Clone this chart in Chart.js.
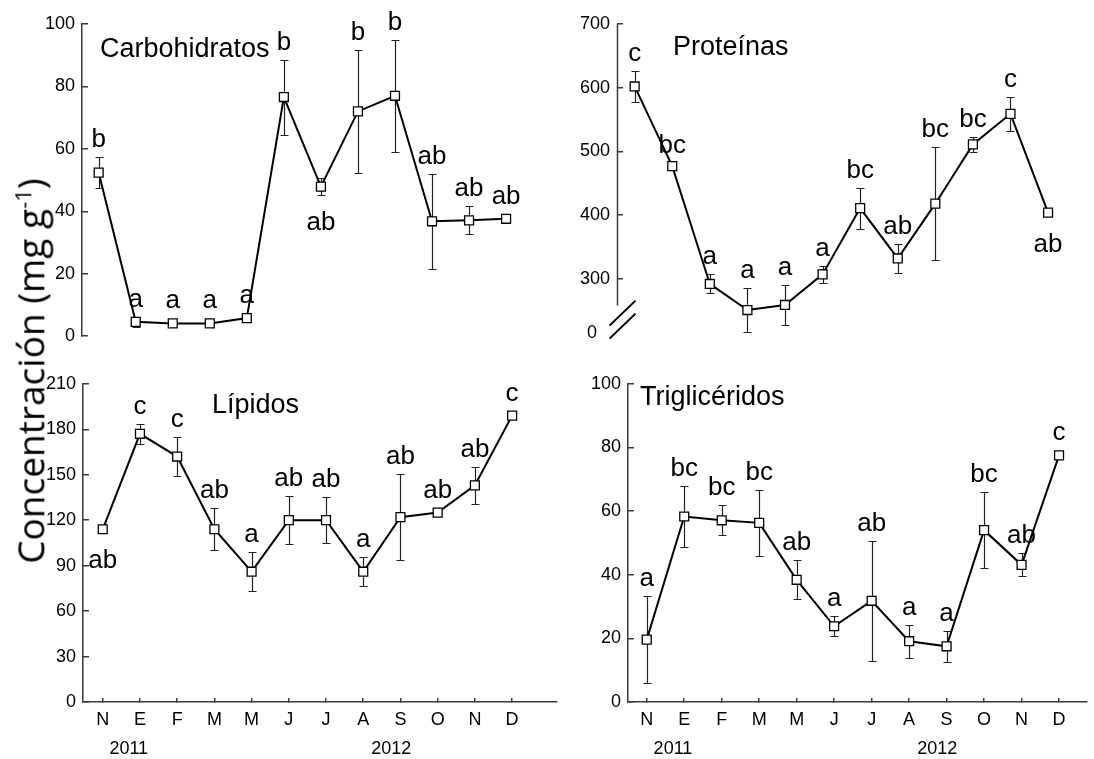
<!DOCTYPE html>
<html>
<head>
<meta charset="utf-8">
<script src="https://cdn.jsdelivr.net/npm/chart.js@4.4.1/dist/chart.umd.min.js"></script>
<style>
  body { margin: 0; background: #fff; }
  #wrap { position: relative; width: 1094px; height: 759px; overflow: hidden; background: #fff; }
  canvas { position: absolute; }
  #ytitle {
    position: absolute; left: 30px; top: 371px;
    transform: translate(-50%, -50%) rotate(-90deg);
    white-space: nowrap; font-family: "Open Sans", sans-serif; font-size: 37px; color: #000;
    line-height: 1;
  }
  #ytitle sup { font-size: 22px; }
</style>
</head>
<body>
<div id="wrap">
  <canvas id="c1" width="560" height="360" style="left:0;top:0"></canvas>
  <canvas id="c2" width="544" height="360" style="left:550px;top:0"></canvas>
  <canvas id="c3" width="564" height="399" style="left:0;top:360px"></canvas>
  <canvas id="c4" width="544" height="399" style="left:550px;top:360px"></canvas>
  <div id="ytitle">Concentración (mg g<sup>-1</sup>)</div>
</div>
<script>
// meses de muestreo (nov 2011 - dic 2012)
const months = ["N", "E", "F", "M", "M", "J", "J", "A", "S", "O", "N", "D"];
const years = ["2011", "2012"];
const yearAt = [0.7, 7.75];

// Carbohidratos
const carbMean = [52.4, 4.6, 4.1, 4.1, 5.8, 76.6, 47.9, 72.0, 77.0, 36.8, 37.1, 37.6];
const carbErr = [5.0, 1.5, 0, 0, 0, 12.0, 2.8, 19.6, 17.9, 15.2, 4.5, 0];
const carbLetters = ["b", "a", "a", "a", "a", "b", "ab", "b", "b", "ab", "ab", "ab"];
const carbBelow = [6];

// Proteínas (eje cortado)
const protMean = [602, 477, 292, 251, 259, 307, 411, 332, 418, 511, 559, 404];
const protErr = [25, 5, 15, 34, 32, 13, 32, 23, 89, 12, 27, 0];
const protLetters = ["c", "bc", "a", "a", "a", "a", "bc", "ab", "bc", "bc", "c", "ab"];
const protBelow = [11];
const protTicks = [300, 400, 500, 600, 700];

// Lípidos
const lipMean = [114, 177, 162, 114, 86, 120, 120, 86, 122, 125, 143, 189];
const lipErr = [0, 6.5, 13, 14, 13, 16, 15, 9.5, 28.5, 0, 12, 0];
const lipLetters = ["ab", "c", "c", "ab", "a", "ab", "ab", "a", "ab", "ab", "ab", "c"];
const lipBelow = [0];

// Triglicéridos
const trigMean = [19.6, 58.3, 57.1, 56.3, 38.4, 23.8, 31.8, 19.1, 17.5, 54.0, 43.1, 77.5];
const trigErr = [13.7, 9.5, 4.7, 10.4, 6.1, 3.1, 18.8, 5.2, 4.8, 12.0, 3.6, 0];
const trigLetters = ["a", "bc", "bc", "bc", "ab", "a", "ab", "a", "a", "bc", "ab", "c"];
const trigBelow = [];

const FONT = "'Liberation Sans', Arial, sans-serif";
const AXIS_COLOR = "#3a3a3a";

// barras de error, letras, título del panel, años y corte del eje
function decoPlugin(p) {
  return {
    id: "deco",
    beforeDatasetsDraw(chart) {
      const ctx = chart.ctx;
      const xs = chart.scales.x;
      const ys = chart.scales.y;
      ctx.save();
      ctx.strokeStyle = "#222";
      ctx.lineWidth = 1.2;
      p.mean.forEach((m, i) => {
        const e = p.err[i];
        if (!e) return;
        const px = Math.round(xs.getPixelForValue(i)) + 0.5;
        const top = Math.round(ys.getPixelForValue(m + e)) + 0.5;
        const bot = Math.round(ys.getPixelForValue(m - e)) + 0.5;
        ctx.beginPath();
        ctx.moveTo(px, top);
        ctx.lineTo(px, bot);
        ctx.moveTo(px - 4, top);
        ctx.lineTo(px + 4, top);
        ctx.moveTo(px - 4, bot);
        ctx.lineTo(px + 4, bot);
        ctx.stroke();
      });
      ctx.restore();
    },
    afterDraw(chart) {
      const ctx = chart.ctx;
      const xs = chart.scales.x;
      const ys = chart.scales.y;
      const area = chart.chartArea;
      ctx.save();
      ctx.fillStyle = "#000";

      // letras de significancia
      ctx.font = "26px " + FONT;
      ctx.textAlign = "center";
      p.mean.forEach((m, i) => {
        const px = xs.getPixelForValue(i);
        const e = p.err[i];
        if (p.below.includes(i)) {
          ctx.textBaseline = "top";
          const bot = e ? ys.getPixelForValue(m - e) : ys.getPixelForValue(m) + 5;
          ctx.fillText(p.letters[i], px, bot + 14);
        } else {
          ctx.textBaseline = "alphabetic";
          const top = e ? ys.getPixelForValue(m + e) : ys.getPixelForValue(m) - 5;
          ctx.fillText(p.letters[i], px, top - 10);
        }
      });

      // título del panel
      ctx.font = "27px " + FONT;
      ctx.textAlign = "left";
      ctx.textBaseline = "alphabetic";
      ctx.fillText(p.title, p.titleX, p.titleY);

      // años bajo el eje x
      if (p.showX) {
        ctx.font = "18px " + FONT;
        ctx.textAlign = "center";
        ctx.textBaseline = "middle";
        years.forEach((yr, k) => {
          ctx.fillText(yr, xs.getPixelForValue(yearAt[k]), area.bottom + 47);
        });
      }

      // eje y cortado (Proteínas)
      if (p.broken) {
        const ax = Math.round(area.left) + 0.5;
        const yEnd = ys.getPixelForValue(p.brokenAt);
        ctx.strokeStyle = AXIS_COLOR;
        ctx.lineWidth = 1.5;
        ctx.beginPath();
        ctx.moveTo(ax, area.top);
        ctx.lineTo(ax, yEnd);
        ctx.stroke();
        ctx.strokeStyle = "#000";
        ctx.lineWidth = 2;
        ctx.beginPath();
        ctx.moveTo(ax - 8, yEnd + 20);
        ctx.lineTo(ax + 18, yEnd - 5);
        ctx.moveTo(ax - 8, yEnd + 33);
        ctx.lineTo(ax + 18, yEnd + 8);
        ctx.stroke();
        ctx.font = "18px " + FONT;
        ctx.textAlign = "center";
        ctx.textBaseline = "middle";
        ctx.fillText("0", area.left - 25, area.bottom);
      }
      ctx.restore();
    },
  };
}

function makeChart(id, p) {
  const yScale = {
    min: p.yMin,
    max: p.yMax,
    ticks: {
      stepSize: p.yStep,
      color: "#000",
      font: { family: FONT, size: 18 },
      padding: 13,
    },
    grid: { drawOnChartArea: false, tickLength: -6, color: AXIS_COLOR, lineWidth: 1.5 },
    border: { display: !p.broken, color: AXIS_COLOR, width: 1.5 },
    afterFit: (s) => {
      s.width = p.axisX;
    },
  };
  if (p.yTicks) {
    yScale.afterBuildTicks = (s) => {
      s.ticks = p.yTicks.map((v) => ({ value: v }));
    };
  }

  new Chart(document.getElementById(id), {
    type: "line",
    data: {
      datasets: [
        {
          data: p.mean.map((v, i) => ({ x: i, y: v })),
          borderColor: "#000",
          borderWidth: 2,
          pointStyle: "rect",
          pointRadius: 6.3,
          pointBackgroundColor: "#fff",
          pointBorderColor: "#000",
          pointBorderWidth: 1.3,
          tension: 0,
          clip: false,
        },
      ],
    },
    options: {
      responsive: false,
      animation: false,
      events: [],
      layout: { padding: { top: p.padTop, bottom: p.padBottom, left: 0, right: p.padRight } },
      plugins: { legend: { display: false }, tooltip: { enabled: false } },
      scales: {
        x: {
          type: "linear",
          min: p.xMin,
          max: p.xMax,
          display: p.showX,
          afterBuildTicks: (s) => {
            s.ticks = months.map((m, i) => ({ value: i }));
          },
          ticks: {
            callback: (v) => months[v],
            color: "#000",
            font: { family: FONT, size: 18 },
            padding: 11,
            maxRotation: 0,
            autoSkip: false,
          },
          grid: { drawOnChartArea: false, tickLength: -4, color: AXIS_COLOR, lineWidth: 1.5 },
          border: { color: AXIS_COLOR, width: 1.5 },
          afterFit: (s) => {
            if (p.showX) s.height = p.xHeight;
          },
        },
        y: yScale,
      },
    },
    plugins: [decoPlugin(p)],
  });
}

makeChart("c1", {
  mean: carbMean, err: carbErr, letters: carbLetters, below: carbBelow,
  title: "Carbohidratos", titleX: 100, titleY: 57,
  yMin: 0, yMax: 100, yStep: 20,
  axisX: 82, padTop: 24, padBottom: 18, padRight: 0,
  xMin: -0.45, xMax: 12.25, showX: false,
});

makeChart("c2", {
  mean: protMean, err: protErr, letters: protLetters, below: protBelow,
  title: "Proteínas", titleX: 123, titleY: 55,
  yMin: 215, yMax: 700, yTicks: protTicks, broken: true, brokenAt: 258,
  axisX: 67, padTop: 24, padBottom: 27, padRight: 0,
  xMin: -0.47, xMax: 12.02, showX: false,
});

makeChart("c3", {
  mean: lipMean, err: lipErr, letters: lipLetters, below: lipBelow,
  title: "Lípidos", titleX: 212, titleY: 53,
  yMin: 0, yMax: 210, yStep: 30,
  axisX: 83, padTop: 23, padBottom: 0, padRight: 2,
  xMin: -0.53, xMax: 12.19, showX: true, xHeight: 57,
});

makeChart("c4", {
  mean: trigMean, err: trigErr, letters: trigLetters, below: trigBelow,
  title: "Triglicéridos", titleX: 90, titleY: 45,
  yMin: 0, yMax: 100, yStep: 20,
  axisX: 78, padTop: 23, padBottom: 0, padRight: 0,
  xMin: -0.5, xMax: 11.73, showX: true, xHeight: 57,
});
</script>
</body>
</html>
